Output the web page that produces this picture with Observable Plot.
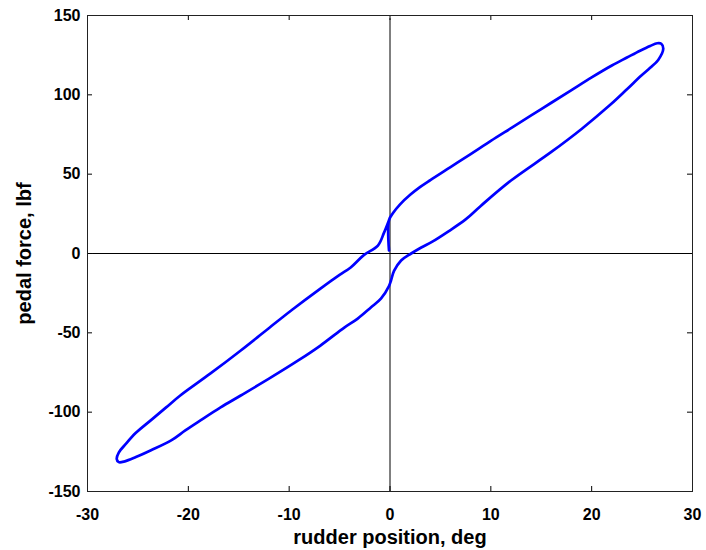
<!DOCTYPE html>
<html>
<head>
<meta charset="utf-8">
<script src="https://cdn.jsdelivr.net/npm/d3@7"></script>
<script src="https://cdn.jsdelivr.net/npm/@observablehq/plot@0.6"></script>
<style>
  html, body { margin: 0; padding: 0; background: #fff; }
  #chart svg { display: block; }
</style>
</head>
<body>
<div id="chart"></div>
<script>
// Rudder position (deg) and pedal force (lbf) around one hysteresis loop,
// starting at the small step near the origin.
const rudderDeg = [
  -0.1, -0.1, 0.3, 1.0, 2.0, 3.0, 4.0, 6.0, 8.0, 10.0, 12.0, 14.0, 16.0,
  18.0, 20.0, 22.0, 23.5, 24.8, 25.8, 26.5, 26.9, 27.1, 26.6, 25.8, 24.9, 23.5, 21.9,
  19.0, 16.0, 12.0, 9.0, 7.5, 5.8, 4.2, 3.1, 2.1, 1.1, 0.4, 0.1,
  -0.1, -0.9, -1.9, -3.2, -4.5, -6.9, -9.1, -11.8, -14.8, -16.8, -18.8, -20.3,
  -21.7, -23.7, -25.2, -26.3, -26.9, -27.1, -26.9, -26.2, -25.2, -23.7, -22.2, -20.8,
  -17.8, -14.8, -12.3, -9.8, -6.9, -5.0, -3.9, -2.6, -1.2, -0.6, -0.1
];
const pedalLbf = [
  1.9, 21.0, 25.5, 31.0, 37.0, 42.0, 46.3, 54.5, 62.7, 71.0, 79.0, 87.0, 95.0,
  103.0, 111.0, 118.5, 123.5, 127.8, 130.8, 132.5, 132.2, 129.0, 122.0, 117.0, 112.0, 103.5, 94.0,
  78.5, 64.0, 46.0, 30.0, 21.5, 14.0, 7.5, 3.8, 0.0, -4.4, -11.0, -17.0,
  -20.5, -28.4, -34.0, -41.0, -46.5, -58.0, -67.4, -78.1, -89.5, -97.0, -105.2, -111.5,
  -117.8, -124.0, -128.3, -131.0, -131.5, -129.5, -125.5, -120.0, -113.0, -105.0, -97.0, -89.5,
  -75.6, -61.1, -48.5, -35.9, -22.1, -13.5, -8.8, -1.0, 5.0, 13.0, 21.0
];

const xTicks = [-30, -20, -10, 0, 10, 20, 30];
const yTicks = [-150, -100, -50, 0, 50, 100, 150];
const xLabel = "rudder position, deg";
const yLabel = "pedal force, lbf";

const loop = rudderDeg.map((x, i) => ({x, y: pedalLbf[i]}));

const W = 706, H = 550;
const M = {top: 15, right: 14, bottom: 59, left: 87};
const innerW = W - M.left - M.right;
const innerH = H - M.top - M.bottom;
const tick = 5;
const fmt = d => String(d);

const chart = Plot.plot({
  width: W,
  height: H,
  marginTop: M.top,
  marginRight: M.right,
  marginBottom: M.bottom,
  marginLeft: M.left,
  style: {
    fontFamily: "'Liberation Sans', Arial, sans-serif",
    fontSize: "16px",
    fontWeight: "bold",
    color: "#000",
    background: "#fff"
  },
  x: {domain: [-30, 30], label: null},
  y: {domain: [-150, 150], label: null},
  marks: [
    // zero reference lines
    Plot.ruleY([0], {x1: -29.5, x2: 30, stroke: "#000", strokeWidth: 1}),
    Plot.ruleX([0], {y1: -150, y2: 148, stroke: "#000", strokeWidth: 1}),
    // the loop
    Plot.line(loop, {x: "x", y: "y", curve: "catmull-rom", stroke: "#0000ff", strokeWidth: 2.7, strokeLinejoin: "round"}),
    // inward ticks on all four sides
    Plot.tickX(xTicks, {x: d => d, insetTop: innerH - tick, stroke: "#000"}),
    Plot.tickX(xTicks, {x: d => d, insetBottom: innerH - tick, stroke: "#000"}),
    Plot.tickY(yTicks, {y: d => d, insetRight: innerW - tick, stroke: "#000"}),
    Plot.tickY(yTicks, {y: d => d, insetLeft: innerW - tick, stroke: "#000"}),
    Plot.frame({stroke: "#222", strokeWidth: 1}),
    // tick labels
    Plot.axisX(xTicks, {anchor: "bottom", tickSize: 0, tickPadding: 17, tickFormat: fmt, label: null}),
    Plot.axisY(yTicks, {anchor: "left", tickSize: 0, tickPadding: 7, tickFormat: fmt, label: null}),
    // axis titles
    Plot.text([xLabel], {frameAnchor: "bottom", textAnchor: "middle", dy: 52, fontSize: 20, fontWeight: "bold", lineAnchor: "bottom", fill: "#000"}),
    Plot.text([yLabel], {frameAnchor: "left", textAnchor: "middle", dx: -57, rotate: -90, fontSize: 20, fontWeight: "bold", lineAnchor: "bottom", fill: "#000"})
  ]
});

document.getElementById("chart").appendChild(chart);
</script>
</body>
</html>
